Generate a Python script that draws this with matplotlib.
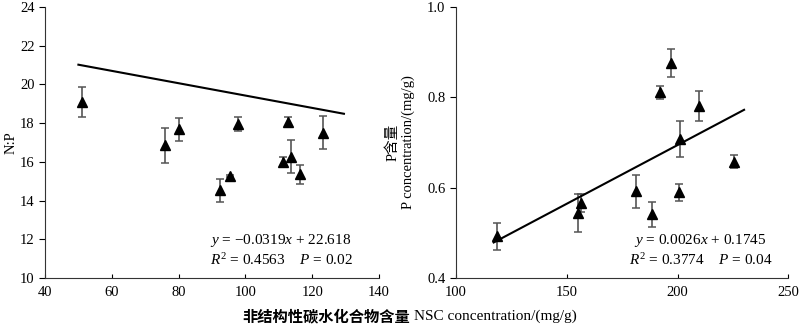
import numpy as np
import matplotlib
matplotlib.use("Agg")
import matplotlib.pyplot as plt

plt.rcParams['font.family'] = ['Liberation Serif', 'Noto Sans CJK SC']
plt.rcParams['mathtext.fontset'] = 'custom'
plt.rcParams['mathtext.rm'] = 'Liberation Serif'
plt.rcParams['mathtext.it'] = 'Liberation Serif:italic'
plt.rcParams['axes.unicode_minus'] = False

# N:P 与 NSC
nsc1 = [51.0, 75.8, 80.1, 92.4, 95.4, 97.7, 111.4, 112.8, 113.7, 116.3, 123.1]
np_ratio = [19.08, 16.85, 17.69, 14.53, 15.26, 17.95, 16.02, 18.06, 16.26, 15.35, 17.50]
np_err = [0.78, 0.90, 0.60, 0.60, 0.06, 0.35, 0.25, 0.27, 0.85, 0.50, 0.85]
k1, b1 = -0.0319, 22.618
fit1_x = [50.0, 129.5]

# P含量 与 NSC
nsc2 = [118.5, 155.1, 156.2, 181.1, 188.5, 191.9, 197.0, 200.9, 200.8, 209.8, 225.3]
p_conc = [0.492, 0.543, 0.566, 0.592, 0.541, 0.811, 0.876, 0.708, 0.590, 0.781, 0.658]
p_err = [0.029, 0.042, 0.020, 0.036, 0.027, 0.015, 0.031, 0.040, 0.019, 0.033, 0.015]
k2, b2 = 0.0026, 0.1745
fit2_x = [117.0, 230.0]

fig = plt.figure(figsize=(8, 3.28), dpi=100)
ax1 = fig.add_axes([0.05625, 0.1524, 0.4175, 0.826])
ax2 = fig.add_axes([0.57, 0.1524, 0.4155, 0.826])

def draw(ax, x, y, e, k, b, fx):
    ax.errorbar(x, y, yerr=e, fmt='none', ecolor='#555555', elinewidth=1.2,
                capsize=3, capthick=1.1, zorder=2)
    ax.plot(x, y, '^', color='black', markersize=7, zorder=3)
    fx = np.array(fx)
    ax.plot(fx, k * fx + b, color='black', lw=1.5, zorder=4)
    for s in ['top', 'right']:
        ax.spines[s].set_visible(False)
    for s in ['left', 'bottom']:
        ax.spines[s].set_color('#333333')
    ax.tick_params(axis='x', direction='in', length=3, labelsize=10.5, pad=6)
    ax.tick_params(axis='y', direction='out', length=4, labelsize=10.5)

draw(ax1, nsc1, np_ratio, np_err, k1, b1, fit1_x)
ax1.set_xlim(40, 140); ax1.set_ylim(10, 24)
ax1.set_xticks(range(40, 141, 20)); ax1.set_yticks(range(10, 25, 2))
ax1.set_ylabel('N:P', fontsize=10.5, labelpad=2)
ax1.text(0.708, 0.105, '$y$ = \u22120.0319$x$ + 22.618\n$R^{\\mathrm{2}}$ = 0.4563    $P$ = 0.02',
         transform=ax1.transAxes, ha='center', va='center', ma='left', fontsize=11,
         linespacing=1.25)

draw(ax2, nsc2, p_conc, p_err, k2, b2, fit2_x)
ax2.set_xlim(100, 250); ax2.set_ylim(0.4, 1.0)
ax2.set_xticks(range(100, 251, 50)); ax2.set_yticks([0.4, 0.6, 0.8, 1.0])
ax2.set_ylabel('P含量\nP concentration/(mg/g)', fontsize=10.5, labelpad=9,
               multialignment='center')
ax2.text(0.735, 0.105, '$y$ = 0.0026$x$ + 0.1745\n$R^{\\mathrm{2}}$ = 0.3774    $P$ = 0.04',
         transform=ax2.transAxes, ha='center', va='center', ma='center', fontsize=11,
         linespacing=1.25)

fig.text(410 / 800, 1 - 316 / 328, '非结构性碳水化合物含量', ha='right', va='center',
         fontsize=11, fontweight='bold', family=['Noto Sans CJK SC'])
fig.text(414 / 800, 1 - 316 / 328, 'NSC concentration/(mg/g)', ha='left', va='center',
         fontsize=11)

fig.savefig('out.png', dpi=100)
